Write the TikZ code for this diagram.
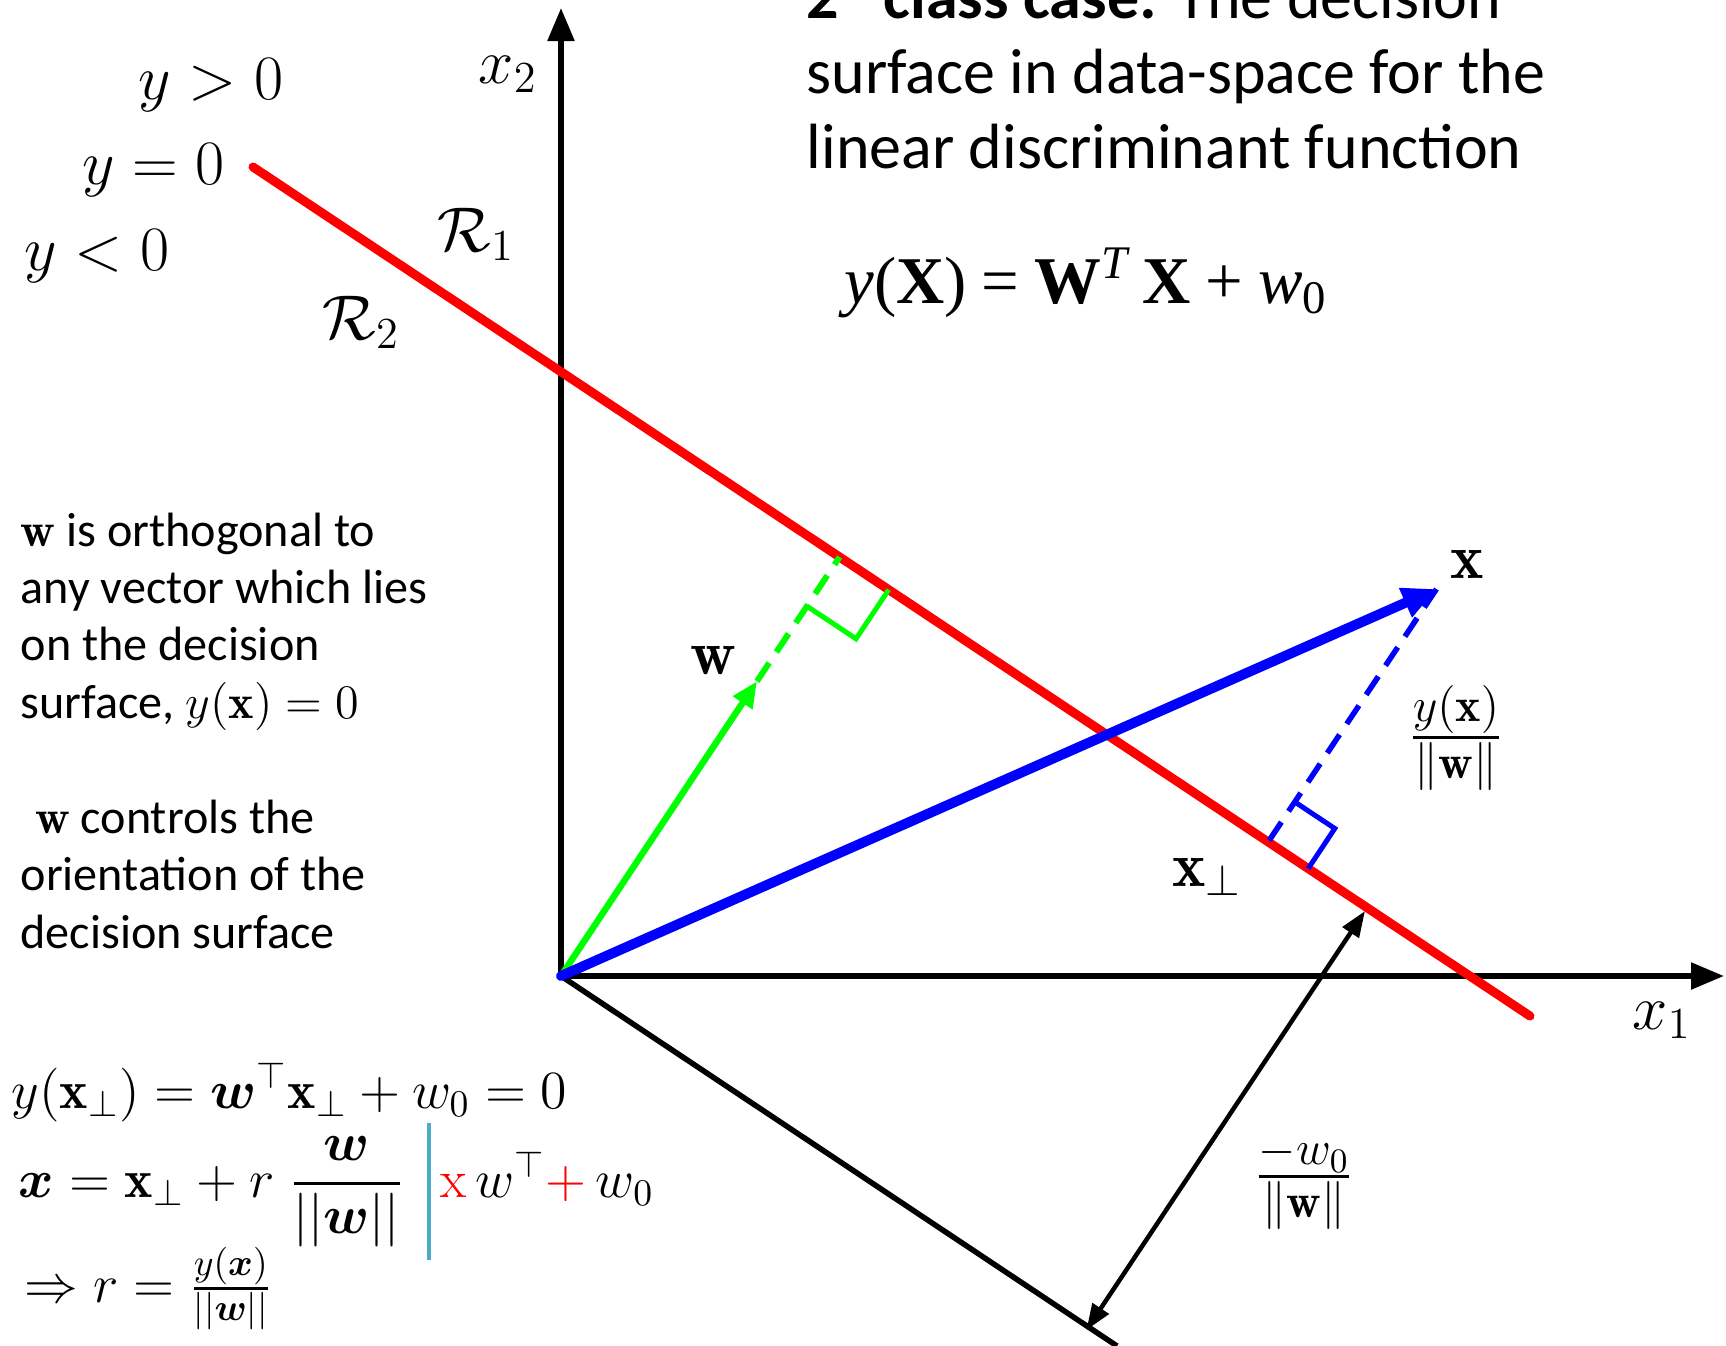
\RequirePackage{fix-cm}
\documentclass[tikz,border=0pt]{standalone}
\usepackage{amsmath,amssymb,bm}
\usepackage{fontspec}
\newfontfamily\calibri{Carlito}
\newfontfamily\tnr{Liberation Serif}
\usepackage{tikz}
\usetikzlibrary{positioning,arrows.meta,calc}
\definecolor{barblue}{RGB}{75,172,198}

\begin{document}
\begin{tikzpicture}[x=0.1mm, y=-0.1mm,
  axisline/.style={line width=0.55mm, -{Triangle[length=3.3mm, width=2.6mm]}},
  boundary/.style={red, line width=0.9mm, line cap=round},
  wvec/.style={green, line width=0.65mm, -{Triangle[length=2.6mm, width=2.2mm]}},
  xvec/.style={blue, line width=1mm, line cap=round, -{Triangle[length=3.4mm, width=3mm]}},
  proj/.style={line width=0.55mm, dash pattern=on 2.2mm off 1.3mm},
  rightang/.style={line width=0.5mm},
  dist/.style={line width=0.45mm, {Triangle[length=2.6mm, width=1.9mm]}-{Triangle[length=2.6mm, width=1.9mm]}},
  lbl/.style={font=\fontsize{18}{22}\selectfont, inner sep=0pt},
  prose/.style={font=\calibri\fontsize{13.7}{16.3}\selectfont, align=left, inner sep=0pt},
  headline/.style={font=\calibri\fontsize{18.2}{21.2}\selectfont, align=left, inner sep=0pt},
  eqn/.style={font=\fontsize{15.3}{19}\selectfont, inner sep=0pt}
]
\useasboundingbox (0,0) rectangle (1726,1346);

% points of the geometry
\coordinate (O) at (561,976);
\coordinate (x2end) at (561,8);
\coordinate (x1end) at (1724,976);
\coordinate (Ra) at (253,167);
\coordinate (Rb) at (1530,1016);
\coordinate (Lend) at (1117,1346);
\coordinate (Fw) at (839.6,557);
\coordinate (W) at (757,681.2);
\coordinate (X) at (1436.5,589);
\coordinate (Fx) at (1268.2,841.9);
\coordinate (T) at (1365,911);
\coordinate (Bt) at (1086.4,1330);

% axes and the two parallel lines
\draw[axisline] (O) -- (x2end);
\draw[axisline] (O) -- (x1end);
\draw[line width=0.55mm] (O) -- (Lend);
\draw[boundary] (Ra) -- (Rb);

% w and x
\draw[proj, green, line width=0.6mm] (W) -- (Fw);
\draw[wvec] (O) -- (W);
\draw[proj, blue] (X) -- (Fx);
\draw[xvec] (O) -- (X);
\draw[dist] (Bt) -- (T);

% right angles
\draw[rightang, green] ($(Fw)+(-32.7,49.1)$) -- ++(49.1,32.7) -- ++(32.7,-49.1);
\draw[rightang, blue] ($(Fx)+(26.6,-40)$) -- ++(40,26.6) -- ++(-26.6,40);

% labels of the figure
\node[lbl, anchor=base] (ypos) at (211,99) {$y>0$};
\node[lbl, anchor=base] (yzero) at (154,184) {$y=0$};
\node[lbl, anchor=base] (yneg) at (97,270) {$y<0$};
\node[lbl, anchor=base] (x2lab) at (508,83) {$x_2$};
\node[lbl, anchor=base] (x1lab) at (1662,1029) {$x_1$};
\node[lbl, anchor=base] (R1) at (476,251) {$\mathcal{R}_1$};
\node[lbl, anchor=base] (R2) at (361,339) {$\mathcal{R}_2$};
\node[lbl, anchor=base] (wlab) at (713,674) {$\mathbf{w}$};
\node[lbl, anchor=base] (xlab) at (1467,578) {$\mathbf{x}$};
\node[lbl, font=\fontsize{19.5}{23}\selectfont] (ratio) at (1456,738) {$\frac{y(\mathbf{x})}{\|\mathbf{w}\|}$};
\node[lbl, anchor=base] (xperp) at (1207,886) {$\mathbf{x}_\perp$};
\node[lbl, font=\fontsize{19.5}{23}\selectfont] (offset) at (1304,1183) {$\frac{-w_0}{\|\mathbf{w}\|}$};

% text
\node[headline, anchor=base west] (head) at (806,168)
  {\textbf{2\hspace{0.7em}class case:} The decision\\surface in data-space for the\\linear discriminant function};
\node[anchor=base west, inner sep=0pt, font=\tnr\fontsize{19}{22}\selectfont] (yx) at (844,303)
  {\textit{y}(\textbf{X})\:=\:\textbf{W}\textsuperscript{\textit{T}}\,\textbf{X}\:+\:\textit{w}\textsubscript{0}};
\node[prose, anchor=base west] (ortho) at (20,718)
  {$\mathbf{w}$ is orthogonal to\\any vector which lies\\on the decision\\surface, $y(\mathbf{x})=0$};
\node[prose, anchor=base west] (ctrl) at (20,948)
  {\hspace{0.3em}$\mathbf{w}$ controls the\\orientation of the\\decision surface};

% derivation
\node[eqn, anchor=base west] (perp) at (11,1108) {$y(\mathbf{x}_\perp) = \boldsymbol{w}^\top\mathbf{x}_\perp + w_0 = 0$};
\node[eqn, anchor=base west] (xdec) at (18,1197) {$\boldsymbol{x} = \mathbf{x}_\perp + r\;\dfrac{\boldsymbol{w}}{||\boldsymbol{w}||}$};
\coordinate (bartop) at (429,1123);
\coordinate (barbot) at (429,1260);
\draw[barblue, line width=0.35mm] (bartop) -- (barbot);
\node[eqn, anchor=base west] (redx) at (440,1197) {${\color{red}\mathrm{x}}\,w^\top {\color{red}+}\, w_0$};
\node[eqn, anchor=base west] (rval) at (24,1302) {$\Rightarrow r = \frac{y(\boldsymbol{x})}{||\boldsymbol{w}||}$};
\end{tikzpicture}
\end{document}
